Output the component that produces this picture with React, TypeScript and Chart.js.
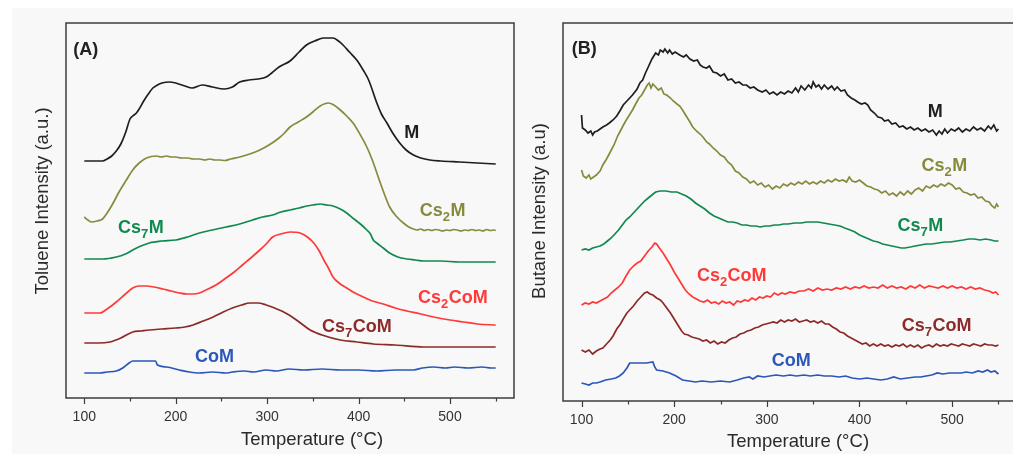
import React, { useEffect, useRef } from "react";
import { Chart, registerables } from "chart.js";
Chart.register(...registerables);

type Pt = [number, number];

// ---------- tick values ----------
const xTickValues = [100, 150, 200, 250, 300, 350, 400, 450, 500, 550];
const xMajorLabels = [100, 200, 300, 400, 500];

// ---------- Panel A: Toluene ----------
const A_M: Pt[] = [[100,237],[110,237],[120,237],[125,239],[130,242],[135,247],[140,254],[145,265],[150,279],[153,282],[157,285],[160,289],[165,297],[170,304],[175,310],[180,313],[185,315],[193,316],[200,315],[210,312],[218,310],[229,313],[240,311],[253,309],[262,311],[270,316],[280,318],[290,319],[299,321],[305,325],[313,331],[325,337],[335,346],[343,353],[352,357],[362,360],[372,360],[378,357],[383,353],[390,346],[398,338],[405,328],[411,318],[420,295],[425,284],[431,275],[438,264],[445,255],[452,248],[460,243],[468,240],[478,238],[490,237],[510,236],[530,235],[550,234]];
const A_Cs2M: Pt[] = [[100,181],[104,178],[108,176],[114,177],[120,179],[125,185],[131,194],[138,206],[146,218],[153,228],[160,235],[168,240],[179,242],[184,241],[190,242],[195,241],[200,241],[206,240],[213,240],[219,239],[226,239],[232,238],[237,239],[243,238],[248,238],[254,237.5],[260,239],[270,241],[281,244],[292,248],[302,253],[313,260],[319,265],[325,271],[334,276],[343,281],[350,286],[358,292],[367,295],[373,293],[380,288],[387,282],[394,275],[402,263],[409,251],[415,238],[420,225],[427,207],[434,191],[441,182],[449,175],[455,171],[460,169],[464,168],[468,169],[472,167.5],[476,168.5],[480,167.5],[484,168.5],[488,168],[492,167],[496,168],[500,167.5],[504,168.5],[508,168],[512,167],[516,168],[520,167.5],[524,168.5],[528,167.5],[532,168],[536,167],[540,168.5],[544,167.5],[548,168],[550,167.5]];
const A_Cs7M: Pt[] = [[100,139],[120,139],[135,141],[145,144],[153,148],[162,152],[171,155],[185,157],[200,158],[213,161],[226,165],[240,168],[255,171],[270,174],[284,178],[295,181],[306,183],[315,186],[325,188],[335,190],[343,192],[350,193],[358,194],[365,193],[372,192],[380,189],[387,185],[395,179],[402,174],[409,168],[413,164],[416,158],[420,155],[427,150],[434,145],[443,141],[453,139],[462,138],[471,137],[490,137],[510,136],[530,136],[550,136]];
const A_Cs2CoM: Pt[] = [[100,85],[110,85],[117,85],[125,89],[135,96],[145,104],[153,110],[160,112],[168,112],[176,111],[186,109],[195,107],[204,105],[212,104],[219,104],[226,105],[233,108],[244,113],[255,120],[264,126],[273,133],[282,140],[292,148],[300,155],[306,161],[315,164],[325,166],[336,165],[344,161],[351,155],[357,147],[362,138],[367,130],[372,121],[380,114],[387,110],[396,105],[405,101],[415,97],[427,94],[440,90],[453,87],[468,84],[482,81],[500,78],[515,76],[530,74],[550,73]];
const A_Cs7CoM: Pt[] = [[100,55],[115,55],[128,56],[140,60],[153,66],[162,67],[171,68],[185,69],[200,70],[210,71],[219,73],[230,77],[241,81],[252,86],[262,90],[272,93],[281,95],[290,95],[299,93],[308,90],[316,87],[324,83],[335,76],[347,68],[360,63],[380,58],[398,56],[416,54],[440,53],[471,51],[500,51],[530,51],[550,51]];
const A_CoM: Pt[] = [[100,25],[110,25],[117,25],[125,26],[135,27],[142,30],[149,35],[153,37],[165,37],[178,37],[180,33],[190,31],[204,28],[215,26],[226,25],[240,26],[255,25],[262,26],[275,27],[285,26],[299,28],[310,27],[324,29],[340,28],[360,29],[380,28],[400,28],[420,27],[440,28],[460,28],[470,30],[482,31],[495,30],[505,31],[520,30],[535,31],[545,30],[550,30]];

// ---------- Panel B: Butane ----------
const B_M: Pt[] = [[100,286],[101,273],[104,271],[107,268],[110,270],[112,266],[114,269],[117,270],[120,272],[123,274],[127,276],[130,278],[134,281],[138,285],[142,291],[145,296],[150,301],[155,306],[160,312],[163,318],[166,321],[169,328],[172,334],[176,342],[180,348],[183,346],[185,351],[188,349],[190,352],[193,348],[195,351],[198,347],[201,349],[206,346],[210,344],[213,346],[217,342],[221,340],[225,341],[228,336],[231,334],[235,333],[238,335],[242,329],[246,328],[250,325],[254,327],[258,321],[262,322],[266,318],[270,319],[274,316],[278,316],[282,313],[286,314],[290,311],[295,309],[299,311],[303,307],[307,309],[311,306],[315,309],[319,307],[323,310],[327,308],[331,313],[334,309],[337,315],[341,311],[345,316],[348,313],[350,319],[353,314],[356,316],[359,312],[362,316],[366,312],[370,315],[373,311],[376,314],[380,310],[384,311],[387,306],[391,303],[395,301],[398,299],[402,297],[406,298],[409,296],[412,291],[416,288],[420,284],[424,283],[427,280],[431,281],[435,277],[439,278],[443,274],[447,275],[451,272],[455,274],[459,271],[463,273],[467,270],[471,272],[475,269],[479,271],[483,266],[486,270],[489,267],[492,272],[495,268],[499,272],[503,270],[507,273],[511,269],[515,272],[519,270],[523,274],[527,271],[531,273],[535,270],[539,275],[542,272],[545,276],[548,270],[550,272]];
const B_Cs2M: Pt[] = [[100,231],[102,225],[105,223],[108,226],[110,222],[113,224],[116,226],[120,230],[123,236],[127,242],[131,249],[135,256],[139,265],[143,272],[147,279],[151,285],[155,291],[159,298],[162,303],[165,306],[168,311],[171,316],[173,318],[175,313],[177,317],[180,314],[183,311],[186,313],[189,307],[192,306],[196,303],[199,300],[203,297],[206,295],[209,291],[213,285],[217,279],[220,274],[224,270],[228,267],[231,264],[235,259],[238,257],[242,253],[246,250],[250,246],[254,244],[258,239],[262,236],[266,230],[270,228],[274,224],[278,222],[282,218],[286,220],[290,216],[294,218],[298,214],[302,216],[306,212],[310,215],[314,213],[318,217],[322,215],[326,218],[330,216],[334,219],[338,217],[342,220],[346,217],[350,219],[354,217],[358,220],[362,218],[366,221],[370,219],[374,222],[378,220],[382,221],[386,219],[389,224],[392,220],[396,219],[400,221],[404,218],[408,215],[412,214],[416,212],[420,211],[424,208],[428,210],[432,206],[436,208],[440,205],[444,209],[448,206],[452,210],[456,207],[460,211],[464,213],[468,210],[472,215],[476,213],[480,216],[484,214],[488,217],[492,215],[496,218],[500,216],[504,212],[508,213],[512,209],[516,208],[520,206],[524,207],[528,203],[532,204],[536,200],[540,199],[543,195],[546,193],[548,197],[550,194]];
const B_Cs7M: Pt[] = [[100,151],[104,152],[108,151],[112,153],[116,154],[120,155],[124,157],[128,160],[132,163],[136,167],[140,171],[144,176],[148,181],[152,184],[156,188],[160,192],[164,196],[168,200],[172,203],[176,206],[180,209],[185,210],[191,210],[197,209],[203,209],[208,207],[213,205],[218,202],[223,198],[228,195],[233,192],[238,188],[243,185],[248,183],[253,181],[258,179],[263,179],[268,178],[273,176],[278,176],[283,175],[288,175],[293,174],[298,175],[303,175],[308,176],[313,176],[318,177],[323,177],[330,178],[337,178],[343,179],[349,179],[355,179],[361,178],[367,177],[373,176],[379,175],[384,173],[390,171],[395,169],[400,166],[405,164],[410,162],[415,160],[420,159],[425,157],[430,156],[435,155],[440,154],[445,153],[449,153],[455,154],[460,155],[466,156],[472,157],[478,157],[485,158],[492,159],[498,159],[505,160],[512,161],[518,162],[524,162],[530,161],[536,162],[542,161],[546,160],[550,160]];
const B_Cs2CoM: Pt[] = [[100,96],[104,98],[108,97],[112,99],[116,98],[120,100],[124,102],[128,104],[132,108],[136,111],[140,114],[144,118],[148,125],[152,131],[156,135],[160,138],[164,140],[168,145],[172,150],[176,154],[179,158],[181,157],[184,153],[188,148],[192,142],[196,136],[200,129],[204,123],[208,117],[212,111],[216,107],[220,104],[224,102],[228,100],[232,99],[236,101],[240,98],[244,99],[248,97],[252,100],[256,98],[260,99],[264,96],[268,100],[272,99],[276,101],[280,100],[284,103],[288,101],[292,104],[296,103],[300,105],[304,104],[308,108],[312,106],[316,108],[320,107],[325,109],[330,108],[335,110],[340,110],[345,112],[350,110],[355,113],[360,111],[365,112],[370,111],[375,113],[380,112],[385,114],[390,112],[395,114],[400,113],[405,115],[410,113],[415,114],[420,113],[425,116],[430,113],[435,115],[440,113],[445,114],[450,112],[455,115],[460,113],[465,116],[470,113],[475,115],[480,114],[485,113],[490,115],[495,113],[500,115],[505,113],[510,114],[515,112],[520,114],[525,112],[530,113],[535,111],[540,110],[544,108],[547,109],[550,106]];
const B_Cs7CoM: Pt[] = [[100,51],[104,49],[108,51],[112,47],[116,50],[120,52],[123,53],[127,57],[131,61],[134,65],[138,72],[142,77],[145,82],[149,88],[152,91],[156,95],[160,100],[164,104],[168,108],[171,109],[174,107],[177,106],[181,103],[185,101],[188,98],[192,93],[196,88],[200,82],[204,76],[208,70],[211,67],[215,66],[219,64],[223,63],[227,62],[231,60],[235,61],[239,58],[243,60],[247,57],[251,59],[255,58],[259,61],[263,63],[267,64],[271,67],[275,68],[279,70],[283,71],[287,73],[291,74],[295,76],[299,77],[303,78],[307,79],[311,78],[315,81],[319,79],[323,81],[327,80],[331,82],[335,79],[339,80],[343,81],[347,79],[351,80],[355,78],[359,80],[363,77],[367,77],[371,74],[375,72],[379,69],[383,68],[387,65],[391,63],[395,61],[399,59],[403,57],[407,58],[411,55],[415,57],[419,55],[423,57],[427,55],[431,56],[435,54],[439,56],[443,55],[447,57],[451,54],[455,56],[459,54],[463,56],[467,53],[471,55],[475,56],[479,54],[483,57],[487,55],[491,56],[495,55],[499,57],[503,56],[507,55],[511,57],[515,56],[519,55],[523,57],[527,56],[531,55],[535,57],[539,56],[543,56],[547,55],[550,56]];
const B_CoM: Pt[] = [[100,18],[104,17],[108,16],[112,18],[116,18],[120,19],[126,21],[132,22],[137,23],[141,25],[145,28],[149,33],[152,38],[160,38],[170,38],[177,39],[179,34],[181,31],[188,30],[195,28],[202,25],[209,21],[216,20],[223,19],[230,20],[240,19],[250,20],[260,19],[268,21],[275,23],[281,24],[285,22],[290,25],[297,24],[303,25],[310,26],[318,25],[325,26],[332,25],[340,26],[347,25],[355,26],[362,25],[370,25],[378,24],[385,25],[392,23],[400,22],[408,23],[415,22],[423,21],[430,22],[437,24],[444,22],[452,23],[460,24],[466,24],[472,25],[478,26],[484,28],[490,27],[497,28],[503,28],[510,28],[515,29],[522,28],[528,30],[533,29],[538,31],[542,29],[546,30],[550,27]];

// ---------- styles ----------
const FONT = '"Liberation Sans", Arial, Helvetica, sans-serif';
const COLORS: Record<string, string> = {
  M: "#1e1e1e",
  Cs2M: "#878a3c",
  Cs7M: "#11894e",
  Cs2CoM: "#ff3838",
  Cs7CoM: "#8c2a2a",
  CoM: "#2a57b8",
};

type Part = [string, boolean];
type Lbl = { parts: Part[]; T: number; v: number; color: string };

const labelsA: Lbl[] = [
  { parts: [["(A)", false]], T: 88, v: 343, color: "#222" },
  { parts: [["M", false]], T: 450, v: 260, color: COLORS.M },
  { parts: [["Cs", false], ["2", true], ["M", false]], T: 467, v: 182, color: COLORS.Cs2M },
  { parts: [["Cs", false], ["7", true], ["M", false]], T: 137, v: 165, color: COLORS.Cs7M },
  { parts: [["Cs", false], ["2", true], ["CoM", false]], T: 465, v: 95, color: COLORS.Cs2CoM },
  { parts: [["Cs", false], ["7", true], ["CoM", false]], T: 360, v: 66, color: COLORS.Cs7CoM },
  { parts: [["CoM", false]], T: 221, v: 36, color: COLORS.CoM },
];
const labelsB: Lbl[] = [
  { parts: [["(B)", false]], T: 89.5, v: 347, color: "#222" },
  { parts: [["M", false]], T: 473.7, v: 284, color: COLORS.M },
  { parts: [["Cs", false], ["2", true], ["M", false]], T: 467, v: 230, color: COLORS.Cs2M },
  { parts: [["Cs", false], ["7", true], ["M", false]], T: 441, v: 170, color: COLORS.Cs7M },
  { parts: [["Cs", false], ["2", true], ["CoM", false]], T: 224.5, v: 120, color: COLORS.Cs2CoM },
  { parts: [["Cs", false], ["7", true], ["CoM", false]], T: 445.6, v: 70, color: COLORS.Cs7CoM },
  { parts: [["CoM", false]], T: 305.4, v: 35, color: COLORS.CoM },
];

type PanelCfg = {
  series: { key: string; data: Pt[] }[];
  labels: Lbl[];
  yMax: number;
  pad: { left: number; right: number; top: number };
  xAxisHeight: number;
  smooth: boolean;
  xTitle: { text: string; x: number; y: number };
  yTitle: { text: string; x: number; y: number };
};

function makePlugin(cfg: PanelCfg) {
  return {
    id: "decor",
    afterDraw(chart: any) {
      const ctx = chart.ctx as CanvasRenderingContext2D;
      const a = chart.chartArea;
      const xs = chart.scales.x;
      const ys = chart.scales.y;
      ctx.save();
      // frame
      ctx.strokeStyle = "#3c3c3c";
      ctx.lineWidth = 1.5;
      ctx.strokeRect(a.left, a.top, a.right - a.left, a.bottom - a.top);
      // ticks
      ctx.lineWidth = 1.2;
      for (const t of xTickValues) {
        const px = Math.round(xs.getPixelForValue(t)) + 0.5;
        const len = xMajorLabels.includes(t) ? 6 : 3.5;
        ctx.beginPath();
        ctx.moveTo(px, a.bottom);
        ctx.lineTo(px, a.bottom + len);
        ctx.stroke();
      }
      // labels on curves
      ctx.textBaseline = "alphabetic";
      ctx.textAlign = "left";
      for (const l of cfg.labels) {
        let cx = xs.getPixelForValue(l.T);
        const cy = ys.getPixelForValue(l.v);
        ctx.fillStyle = l.color;
        for (const [t, sub] of l.parts) {
          ctx.font = sub ? `bold 13px ${FONT}` : `bold 18px ${FONT}`;
          ctx.fillText(t, cx, sub ? cy + 5 : cy);
          cx += ctx.measureText(t).width + (sub ? 0.5 : 0);
        }
      }
      // axis titles
      ctx.fillStyle = "#2a2a2a";
      ctx.font = `18.5px ${FONT}`;
      ctx.textAlign = "center";
      ctx.textBaseline = "middle";
      ctx.fillText(cfg.xTitle.text, cfg.xTitle.x, cfg.xTitle.y);
      ctx.save();
      ctx.translate(cfg.yTitle.x, cfg.yTitle.y);
      ctx.rotate(-Math.PI / 2);
      ctx.fillText(cfg.yTitle.text, 0, 0);
      ctx.restore();
      ctx.restore();
    },
  };
}

function buildChart(canvas: HTMLCanvasElement, cfg: PanelCfg) {
  return new Chart(canvas, {
    type: "line",
    data: {
      datasets: cfg.series.map((s) => ({
        label: s.key,
        data: s.data.map(([x, y]) => ({ x, y })),
        borderColor: COLORS[s.key],
        borderWidth: 1.7,
        pointRadius: 0,
        fill: false,
        tension: cfg.smooth ? 0.3 : 0,
        cubicInterpolationMode: cfg.smooth ? "monotone" : "default",
      })),
    },
    options: {
      responsive: false,
      animation: false,
      events: [],
      layout: { padding: { left: cfg.pad.left, right: cfg.pad.right, top: cfg.pad.top, bottom: 0 } },
      plugins: { legend: { display: false }, tooltip: { enabled: false } },
      scales: {
        x: {
          type: "linear",
          min: 80,
          max: 570,
          border: { display: false },
          grid: { display: true, drawOnChartArea: false, drawTicks: true, tickLength: 6, tickColor: "rgba(0,0,0,0)" },
          afterBuildTicks: (scale: any) => {
            scale.ticks = xTickValues.map((v) => ({ value: v }));
          },
          afterFit: (scale: any) => {
            scale.height = cfg.xAxisHeight;
          },
          ticks: {
            autoSkip: false,
            maxRotation: 0,
            padding: 5,
            color: "#333",
            font: { family: FONT, size: 14 },
            callback: (v: any) => (xMajorLabels.includes(Number(v)) ? String(v) : ""),
          },
        },
        y: { type: "linear", display: false, min: 0, max: cfg.yMax },
      },
    },
    plugins: [makePlugin(cfg)],
  } as any);
}

const panelA: PanelCfg = {
  series: [
    { key: "M", data: A_M },
    { key: "Cs2M", data: A_Cs2M },
    { key: "Cs7M", data: A_Cs7M },
    { key: "Cs2CoM", data: A_Cs2CoM },
    { key: "Cs7CoM", data: A_Cs7CoM },
    { key: "CoM", data: A_CoM },
  ],
  labels: labelsA,
  yMax: 375,
  pad: { left: 66, right: 16, top: 23 },
  xAxisHeight: 56,
  smooth: true,
  xTitle: { text: "Temperature (°C)", x: 312, y: 440 },
  yTitle: { text: "Toluene Intensity (a.u.)", x: 43, y: 201 },
};

const panelB: PanelCfg = {
  series: [
    { key: "M", data: B_M },
    { key: "Cs2M", data: B_Cs2M },
    { key: "Cs7M", data: B_Cs7M },
    { key: "Cs2CoM", data: B_Cs2CoM },
    { key: "Cs7CoM", data: B_Cs7CoM },
    { key: "CoM", data: B_CoM },
  ],
  labels: labelsB,
  yMax: 378,
  pad: { left: 43, right: 23, top: 23 },
  xAxisHeight: 53,
  smooth: false,
  xTitle: { text: "Temperature (°C)", x: 278, y: 442 },
  yTitle: { text: "Butane Intensity (a.u)", x: 20, y: 211 },
};

export default function App() {
  const refA = useRef<HTMLCanvasElement>(null);
  const refB = useRef<HTMLCanvasElement>(null);
  useEffect(() => {
    const ca = buildChart(refA.current!, panelA);
    const cb = buildChart(refB.current!, panelB);
    return () => {
      ca.destroy();
      cb.destroy();
    };
  }, []);
  return (
    <div style={{ position: "absolute", left: 0, top: 0, width: 1013, height: 454, overflow: "hidden", background: "#ffffff" }}>
      <div style={{ position: "absolute", left: 12, top: 8, right: 0, bottom: 0, background: "#f8f8f8" }} />
      <canvas ref={refA} width={530} height={454} style={{ position: "absolute", left: 0, top: 0, width: 530, height: 454 }} />
      <canvas ref={refB} width={520} height={454} style={{ position: "absolute", left: 520, top: 0, width: 520, height: 454 }} />
    </div>
  );
}
